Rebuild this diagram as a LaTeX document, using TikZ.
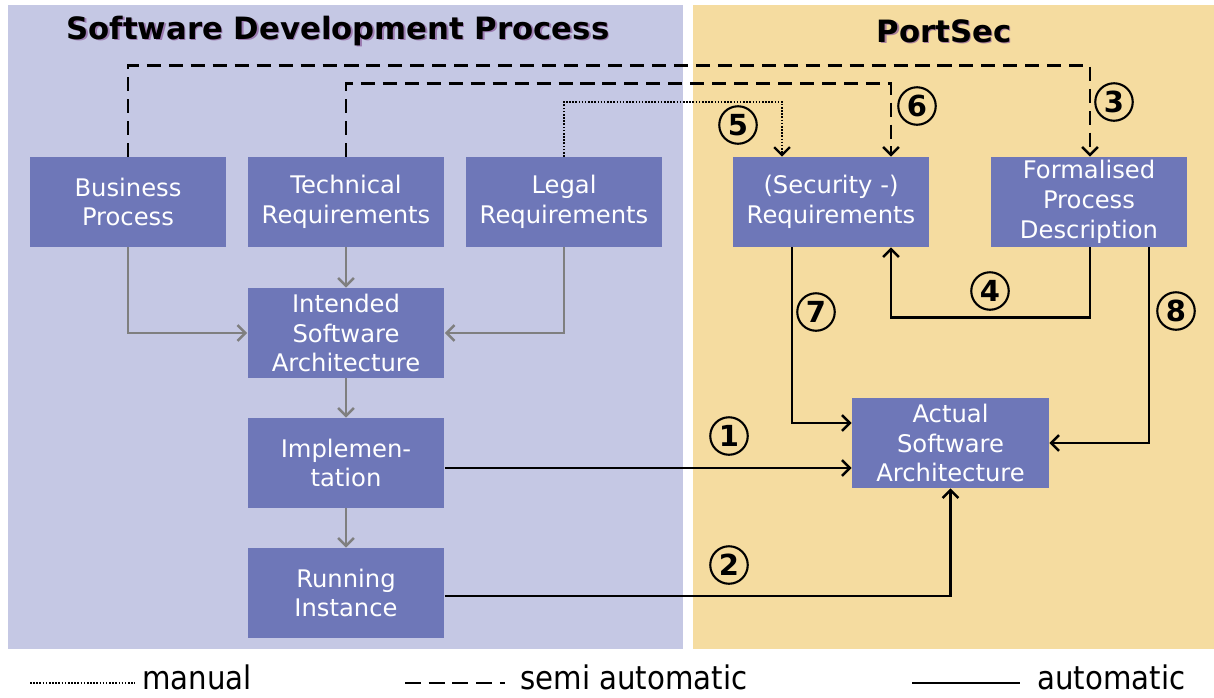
\documentclass[tikz,border=0pt]{standalone}
\usepackage{fontspec}
\setmainfont{DejaVu Sans}
\newfontfamily\legendfont{DejaVu Sans Condensed}
\usetikzlibrary{arrows.meta,calc}
\definecolor{leftbg}{HTML}{C5C8E4}
\definecolor{rightbg}{HTML}{F5DCA0}
\definecolor{boxblue}{HTML}{6E77B8}
\definecolor{arrgray}{HTML}{7F7F7F}
\definecolor{shadowpurple}{HTML}{8A5A9A}
\tikzset{
  box/.style={fill=boxblue, text=white, minimum width=3.94cm, minimum height=1.8cm,
    inner sep=0pt, align=center, font=\fontsize{13.8}{17}\selectfont},
  grayarrow/.style={draw=arrgray, line width=1.45pt, -{Straight Barb[length=4.5pt,width=9pt]}},
  autoarrow/.style={draw=black, line width=1.45pt, -{Straight Barb[length=4.5pt,width=9pt]}},
  semiarrow/.style={autoarrow, dash pattern=on 8pt off 4.5pt},
  manualarrow/.style={autoarrow, line width=1.3pt, dash pattern=on 0.9pt off 0.9pt},
  num/.style={circle, draw=black, line width=1.2pt, minimum size=0.75cm, inner sep=0pt,
    font=\bfseries\fontsize{16.5}{16.5}\selectfont},
  heading/.style={font=\bfseries\fontsize{17.5}{20}\selectfont},
  legendtext/.style={font=\legendfont\fontsize{18.5}{20}\selectfont, anchor=west, inner sep=0pt},
}
\begin{document}
\begin{tikzpicture}[x=0.02cm,y=-0.02cm]
\useasboundingbox (0,0) rectangle (1214,697);
\fill[leftbg] (8,5) rectangle (683,649);
\fill[rightbg] (693,5) rectangle (1214,649);

% headings with shadow
\node[heading, text=shadowpurple, opacity=0.7] at (339.5,32.5) {Software Development Process};
\node[heading] (hsdp) at (338,31) {Software Development Process};
\node[heading, text=shadowpurple, opacity=0.7] at (945.5,32.5) {PortSec};
\node[heading] (hps) at (944,31) {PortSec};

% boxes
\node[box] (bp) at (128,202) {Business\\Process};
\node[box] (tr) at (346,202) {Technical\\Requirements};
\node[box] (lr) at (564,202) {Legal\\Requirements};
\node[box] (isa) at (346,333) {Intended\\Software\\Architecture};
\node[box] (impl) at (346,463) {Implemen-\\tation};
\node[box] (ri) at (346,593) {Running\\Instance};
\node[box] (sr) at (831,202) {(Security -)\\Requirements};
\node[box] (fpd) at (1089,202) {Formalised\\Process\\Description};
\node[box] (asa) at (950.5,443) {Actual\\Software\\Architecture};

% gray arrows
\draw[grayarrow] (bp.south) |- (isa.west);
\draw[grayarrow] (tr.south) -- (isa.north);
\draw[grayarrow] (lr.south) |- (isa.east);
\draw[grayarrow] (isa.south) -- (impl.north);
\draw[grayarrow] (impl.south) -- (ri.north);

% semi automatic
\draw[semiarrow] (bp.north) -- ++(0,-91) -| ([xshift=0.02cm]fpd.north);
\draw[semiarrow] (tr.north) -- ++(0,-73) -| ([xshift=1.2cm]sr.north);
% manual
\draw[manualarrow] (lr.north) -- ++(0,-55) -| ([xshift=-0.98cm]sr.north);
% automatic
\draw[autoarrow] ([xshift=0.02cm]fpd.south) -- ++(0,70) -| ([xshift=1.2cm]sr.south);
\draw[autoarrow] ([xshift=-0.78cm]sr.south) |- ([yshift=0.4cm]asa.west);
\draw[autoarrow] ([xshift=1.2cm]fpd.south) |- (asa.east);
\draw[autoarrow] ([yshift=-0.1cm]impl.east) -- ([yshift=-0.1cm]impl.east -| asa.west);
\draw[autoarrow] ([yshift=-0.06cm]ri.east) -| (asa.south);

% numbers
\node[num] (n1) at (729,436) {1};
\node[num] (n2) at (729,565) {2};
\node[num] (n3) at (1114,102) {3};
\node[num] (n4) at (990,291) {4};
\node[num] (n5) at (738,125) {5};
\node[num] (n6) at (917,106) {6};
\node[num] (n7) at (816,312) {7};
\node[num] (n8) at (1176,311) {8};

% legend
\coordinate (l1a) at (30,683);
\coordinate (l1b) at (135,683);
\draw[line width=1.2pt, dash pattern=on 0.9pt off 0.9pt] (l1a) -- (l1b);
\node[legendtext] (lt1) at (142,677) {manual};
\coordinate (l2a) at (405,683);
\coordinate (l2b) at (505,683);
\draw[line width=1.5pt, dash pattern=on 9pt off 4.5pt] (l2a) -- (l2b);
\node[legendtext] (lt2) at (520,677) {semi automatic};
\coordinate (l3a) at (912,683);
\coordinate (l3b) at (1020,683);
\draw[line width=1.5pt] (l3a) -- (l3b);
\node[legendtext] (lt3) at (1037,677) {automatic};
\end{tikzpicture}
\end{document}
